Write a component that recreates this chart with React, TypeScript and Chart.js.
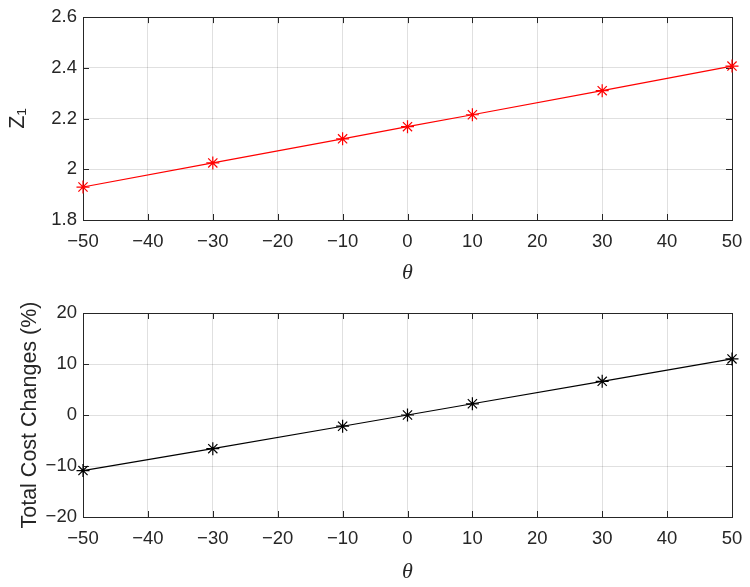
import { useEffect, useRef } from 'react';
import { Chart, registerables } from 'chart.js';

Chart.register(...registerables);

// values
const thetaValues = [-50, -30, -10, 0, 10, 30, 50];
const z1Values = [1.93, 2.025, 2.12, 2.168, 2.215, 2.31, 2.407];
const costChangeValues = [-10.9, -6.6, -2.2, 0, 2.2, 6.6, 11.0];

const AXIS_COLOR = '#262626';
const SANS = '"Liberation Sans", Arial, sans-serif';
const TICK_FONT = { family: SANS, size: 18.5 };

// MATLAB-like box with inward ticks on all four sides
const boxPlugin = {
  id: 'matlabBox',
  beforeDatasetsDraw(chart: any) {
    const { ctx, chartArea } = chart;
    const { left, right, top, bottom } = chartArea;
    const xs = chart.scales.x;
    const ys = chart.scales.y;
    const len = 6;
    ctx.save();
    ctx.strokeStyle = AXIS_COLOR;
    ctx.lineWidth = 1;
    ctx.beginPath();
    xs.ticks.forEach((t: any) => {
      const px = Math.round(xs.getPixelForValue(t.value)) + 0.5;
      ctx.moveTo(px, bottom);
      ctx.lineTo(px, bottom - len);
      ctx.moveTo(px, top);
      ctx.lineTo(px, top + len);
    });
    ys.ticks.forEach((t: any) => {
      const py = Math.round(ys.getPixelForValue(t.value)) + 0.5;
      ctx.moveTo(left, py);
      ctx.lineTo(left + len, py);
      ctx.moveTo(right, py);
      ctx.lineTo(right - len, py);
    });
    ctx.stroke();
    ctx.strokeRect(Math.round(left) + 0.5, Math.round(top) + 0.5, Math.round(right - left), Math.round(bottom - top));
    ctx.restore();
  },
};

const minusSign = (s: string) => s.replace('-', '\u2212');

interface SubPlotProps {
  values: number[];
  color: string;
  yMin: number;
  yMax: number;
  yStep: number;
  yTitle: string;
  yTitlePad: number;
  height: number;
  padTop: number;
  xAxisHeight: number;
  xTitlePad: number;
}

function SubPlot(props: SubPlotProps) {
  const canvasRef = useRef<HTMLCanvasElement>(null);
  const chartRef = useRef<Chart | null>(null);

  useEffect(() => {
    if (!canvasRef.current) return;
    const ctx = canvasRef.current.getContext('2d');
    if (!ctx) return;
    if (chartRef.current) chartRef.current.destroy();

    chartRef.current = new Chart(ctx, {
      type: 'line',
      data: {
        datasets: [{
          data: thetaValues.map((x, i) => ({ x, y: props.values[i] })),
          borderColor: props.color,
          backgroundColor: props.color,
          borderWidth: 1.2,
          pointStyle: 'star',
          pointRadius: 6.5,
          pointBorderWidth: 1.2,
          pointBorderColor: props.color,
          tension: 0,
          clip: false as any,
        }],
      },
      options: {
        responsive: true,
        maintainAspectRatio: false,
        animation: false,
        layout: { padding: { top: props.padTop, right: 18, left: 0, bottom: 0 } },
        plugins: { legend: { display: false }, tooltip: { enabled: false } },
        scales: {
          x: {
            type: 'linear',
            min: -50,
            max: 50,
            afterFit: (scale: any) => {
              scale.height = props.xAxisHeight;
              scale.paddingLeft = 0;
              scale.paddingRight = 0;
            },
            ticks: {
              stepSize: 10,
              color: AXIS_COLOR,
              font: TICK_FONT,
              padding: 11,
              maxRotation: 0,
              callback: (v: any) => minusSign(String(v)),
            },
            grid: { color: 'rgba(0,0,0,0.12)', drawTicks: false },
            border: { display: false },
            title: {
              display: true,
              text: '\u03b8',
              color: AXIS_COLOR,
              font: { family: '"Liberation Serif", "Times New Roman", serif', style: 'italic', size: 22 },
              padding: { top: 0, bottom: props.xTitlePad },
            },
          },
          y: {
            min: props.yMin,
            max: props.yMax,
            afterFit: (scale: any) => { scale.width = 83; },
            ticks: {
              stepSize: props.yStep,
              color: AXIS_COLOR,
              font: TICK_FONT,
              padding: 6,
              callback: (v: any) => minusSign(String(Number(Number(v).toFixed(2)))),
            },
            grid: { color: 'rgba(0,0,0,0.12)', drawTicks: false },
            border: { display: false },
            title: {
              display: true,
              text: props.yTitle,
              color: AXIS_COLOR,
              font: { family: SANS, size: 21.5 },
              padding: { top: props.yTitlePad, bottom: 0 },
            },
          },
        },
      },
      plugins: [boxPlugin],
    });

    return () => {
      if (chartRef.current) {
        chartRef.current.destroy();
        chartRef.current = null;
      }
    };
  }, [props]);

  return (
    <div style={{ position: 'relative', width: 750, height: props.height }}>
      <canvas ref={canvasRef}></canvas>
    </div>
  );
}

const topProps: SubPlotProps = {
  values: z1Values, color: '#ff0000', yMin: 1.8, yMax: 2.6, yStep: 0.2,
  yTitle: 'Z\u2081', yTitlePad: 5, height: 293, padTop: 17, xAxisHeight: 73, xTitlePad: 7,
};
const bottomProps: SubPlotProps = {
  values: costChangeValues, color: '#000000', yMin: -20, yMax: 20, yStep: 10,
  yTitle: 'Total Cost Changes (%)', yTitlePad: 17, height: 294, padTop: 20, xAxisHeight: 70, xTitlePad: 2,
};

export default function App() {
  return (
    <div style={{ position: 'absolute', left: 0, top: 0, width: 750, height: 587, background: '#fff' }}>
      <SubPlot {...topProps} />
      <SubPlot {...bottomProps} />
    </div>
  );
}
